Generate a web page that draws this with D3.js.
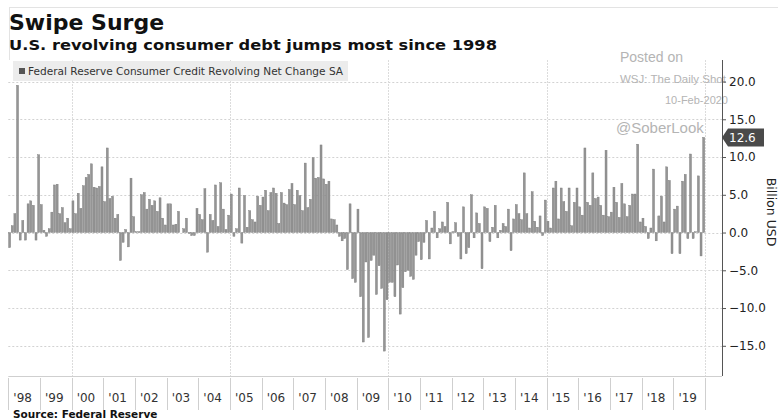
<!DOCTYPE html>
<html><head><meta charset="utf-8">
<script src="https://cdn.jsdelivr.net/npm/d3@7"></script>
<style>body{margin:0;background:#fff} svg{display:block}</style>
</head><body><svg id="c" width="778" height="420"></svg>
<script>
// ---- data ----
const startYear = 1998;
const yearLabels = ["'98","'99","'00","'01","'02","'03","'04","'05","'06","'07","'08","'09","'10","'11","'12","'13","'14","'15","'16","'17","'18","'19"];
// Monthly net change, billion USD, Jan 1998 .. Dec 2019
const netChange = [
  -2.0, 0.9, 2.5, 19.5, -1.0, 1.6, -1.0, 3.8, 4.2, 3.6, -1.0, 10.3,
  3.7, 0.3, -0.5, 0.5, 2.7, 6.3, 6.4, 2.5, 3.3, 1.3, 1.9, 0.5,
  4.2, 2.5, 5.2, 3.2, 6.2, 7.3, 7.7, 9.1, 6.0, 5.9, 6.1, 8.7,
  4.1, 11.2, 4.5, 4.8, 1.9, 2.4, -3.7, -1.3, 0.4, -1.9, 7.2, 2.1,
  0.1, 0.1, 5.0, 5.3, 3.1, 4.4, 3.6, 4.2, 2.8, 4.6, 1.9, 1.0,
  3.8, 3.8, 1.0, 1.1, 2.8, 0.0, 0.5, 1.9, -0.1, -0.4, -0.4, 3.2,
  2.4, 1.7, 5.8, -2.6, 2.4, 1.6, 6.3, 0.8, 6.6, 3.1, 0.4, 2.3,
  5.1, -0.5, 0.5, 5.9, -1.4, 4.9, 0.7, 2.9, 1.7, 1.4, 4.8, 3.6,
  4.7, 5.6, 2.9, 5.3, 5.9, 5.2, 1.2, 5.3, 3.9, 3.7, 5.7, 6.5,
  3.7, 5.6, 4.9, 2.9, 9.2, 3.3, 4.4, 9.9, 7.2, 7.3, 11.6, 7.1,
  6.4, 6.8, 1.8, 1.7, 1.0, -0.5, -1.1, -0.8, -4.9, 3.8, -6.1, -6.6,
  3.1, -8.5, -14.5, -3.9, -13.9, -3.7, -3.0, -8.2, -4.4, -7.4, -15.7, -8.9,
  -6.6, -6.6, -8.5, -4.3, -10.8, -7.3, -5.2, -5.0, -5.8, -6.2, -3.0, -1.2,
  -3.6, -1.3, 1.6, -3.5, 0.6, 2.8, -0.7, 0.5, 1.4, 0.8, 4.0, -1.5,
  0.1, 1.3, -0.5, -3.5, 3.4, -2.8, -2.0, 5.0, -0.7, 2.6, 1.2, -4.8,
  3.4, 3.2, -1.2, 0.7, 3.6, -0.7, 0.3, 1.2, 0.8, 3.1, -2.4, 1.8,
  3.7, 2.5, 1.7, 7.9, 2.5, 0.6, 5.4, 1.5, 0.7, 2.2, -0.4, 4.3,
  1.5, 0.6, 5.9, 6.8, 1.8, 5.9, 4.1, 2.8, 5.9, 0.9, 4.0, 5.9,
  3.4, 2.3, 11.2, 4.0, 3.6, 7.9, 4.5, 4.7, 3.6, 2.3, 10.9, 2.1,
  2.7, 6.0, 4.0, 2.0, 6.5, 3.8, 2.1, 3.6, 5.1, 5.1, 11.7, 1.4,
  1.9, 0.8, -0.8, 0.6, 8.4, -1.1, 2.2, 4.8, 1.4, 8.7, 6.9, -2.8,
  3.1, 3.5, -2.8, 6.8, 7.7, -0.8, 10.4, -0.8, 0.1, 7.5, -3.1, 12.6
];
const yTickValues = [-15, -10, -5, 0, 5, 10, 15, 20];
const gridYears = [2000, 2005, 2010, 2015, 2020];
const lastValue = 12.6;

// ---- layout ----
const svg = d3.select('#c');
const P = {left: 8.3, right: 705, top: 60, bottom: 376, axisX: 722};
const endYear = startYear + yearLabels.length;
const months = d3.range(netChange.length);

const x = d3.scaleBand().domain(months).range([P.left, P.right]).paddingInner(0.24).paddingOuter(0.12);
const xYear = d3.scaleLinear().domain([startYear, endYear]).range([P.left, P.right]);
const y = d3.scaleLinear().domain([-19, 22.85]).range([P.bottom, P.top]);

// frame
svg.append('line').attr('x1', 10).attr('x2', 778).attr('y1', 7.5).attr('y2', 7.5).attr('stroke', '#e3e3e3');
svg.append('line').attr('x1', 9.5).attr('x2', 9.5).attr('y1', 7).attr('y2', 60).attr('stroke', '#e3e3e3');

// gridlines
svg.append('g').selectAll('line').data(yTickValues).join('line')
  .attr('x1', P.left).attr('x2', P.axisX)
  .attr('y1', d => Math.round(y(d)) + 0.5).attr('y2', d => Math.round(y(d)) + 0.5)
  .attr('stroke', '#d2d2d2').attr('stroke-dasharray', '2,2');
svg.append('g').selectAll('line').data(gridYears).join('line')
  .attr('x1', d => Math.round(xYear(d)) + 0.5).attr('x2', d => Math.round(xYear(d)) + 0.5)
  .attr('y1', P.top).attr('y2', P.bottom)
  .attr('stroke', '#dcdcdc').attr('stroke-dasharray', '2,1');

// watermark
const wm = svg.append('g').attr('fill', '#b4b4b4').attr('font-family', 'Liberation Sans, Arial, sans-serif');
wm.append('text').attr('x', 620).attr('y', 62).attr('font-size', 14).text('Posted on');
wm.append('text').attr('x', 620).attr('y', 83).attr('font-size', 11.5).text('WSJ: The Daily Shot');
wm.append('text').attr('x', 665).attr('y', 104).attr('font-size', 11).text('10-Feb-2020');
wm.append('text').attr('x', 616).attr('y', 133).attr('font-size', 15).text('@SoberLook');

// bars
svg.append('g').selectAll('rect').data(netChange).join('rect')
  .attr('x', (d, i) => x(i))
  .attr('width', x.bandwidth())
  .attr('y', d => y(Math.max(0, d)))
  .attr('height', d => Math.abs(y(d) - y(0)))
  .attr('fill', '#959595')
  .attr('stroke', '#777').attr('stroke-width', 0.4);

// legend
svg.append('rect').attr('x', 13).attr('y', 61).attr('width', 335).attr('height', 20).attr('fill', '#ececec');
svg.append('rect').attr('x', 19).attr('y', 68).attr('width', 6).attr('height', 6).attr('fill', '#555');
svg.append('text').attr('x', 28).attr('y', 75).attr('font-family', 'DejaVu Sans, sans-serif')
  .attr('font-size', 10.4).attr('fill', '#333')
  .attr('textLength', 315).attr('lengthAdjust', 'spacingAndGlyphs')
  .text('Federal Reserve Consumer Credit Revolving Net Change SA');

// right axis
const yAxis = d3.axisRight(y).tickValues(yTickValues).tickSize(4).tickPadding(3).tickFormat(d3.format('.1f'));
const ga = svg.append('g').attr('transform', `translate(${P.axisX},0)`).call(yAxis);
ga.select('.domain').attr('stroke', '#555').attr('d', `M0.5,${P.top}V${P.bottom}`);
ga.selectAll('.tick line').attr('stroke', '#555');
ga.selectAll('.tick text').attr('font-family', 'DejaVu Sans, sans-serif').attr('font-size', 12).attr('fill', '#222');

// last value label
const ly = y(lastValue);
svg.append('path')
  .attr('d', `M${P.axisX},${ly} L${P.axisX + 6},${ly - 9} H764 V${ly + 9} H${P.axisX + 6} Z`)
  .attr('fill', '#4a4a4a');
svg.append('text').attr('x', 729).attr('y', ly + 4.5).attr('font-family', 'DejaVu Sans, sans-serif')
  .attr('font-size', 12).attr('fill', '#fff').text(d3.format('.1f')(lastValue));

// axis title
svg.append('text').attr('transform', `translate(767,212) rotate(90)`).attr('text-anchor', 'middle')
  .attr('font-family', 'DejaVu Sans, sans-serif').attr('font-size', 12.5).attr('fill', '#222').text('Billion USD');

// x axis
svg.append('line').attr('x1', P.left).attr('x2', P.axisX).attr('y1', P.bottom + 0.5).attr('y2', P.bottom + 0.5).attr('stroke', '#cfcfcf');
const yearsB = d3.range(startYear, endYear + 1);
svg.append('g').selectAll('line').data(yearsB).join('line')
  .attr('x1', d => Math.round(xYear(d)) + 0.5).attr('x2', d => Math.round(xYear(d)) + 0.5)
  .attr('y1', P.bottom + 2).attr('y2', 410).attr('stroke', '#cfcfcf');
svg.append('g').selectAll('text').data(yearLabels).join('text')
  .attr('x', (d, i) => xYear(startYear + i + 0.5) - 1.5).attr('y', 402).attr('text-anchor', 'middle')
  .attr('font-family', 'DejaVu Sans, sans-serif').attr('font-size', 12).attr('fill', '#333').text(d => d);

// titles
svg.append('text').attr('x', 9).attr('y', 30).attr('font-family', 'DejaVu Sans, sans-serif').attr('font-weight', 'bold')
  .attr('font-size', 22).attr('fill', '#111').text('Swipe Surge');
svg.append('text').attr('x', 9).attr('y', 50).attr('font-family', 'DejaVu Sans, sans-serif').attr('font-weight', 'bold')
  .attr('font-size', 14.5).attr('fill', '#111')
  .attr('textLength', 488).attr('lengthAdjust', 'spacingAndGlyphs')
  .text('U.S. revolving consumer debt jumps most since 1998');
svg.append('text').attr('x', 13).attr('y', 418).attr('font-family', 'DejaVu Sans, sans-serif').attr('font-weight', 'bold')
  .attr('font-size', 10.5).attr('fill', '#111').text('Source: Federal Reserve');
</script></body></html>
